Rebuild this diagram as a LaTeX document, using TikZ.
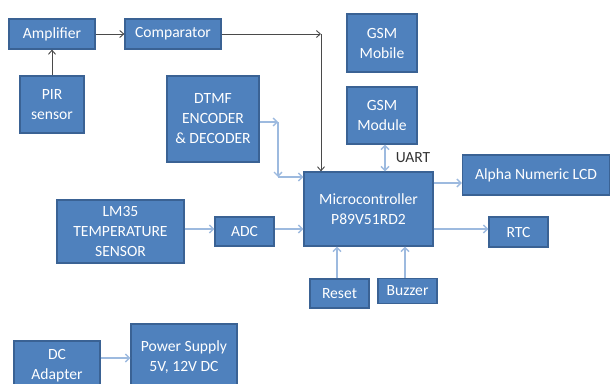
\documentclass[tikz,border=0pt]{standalone}
\usepackage{fontspec}
\setmainfont{Carlito}
\usetikzlibrary{arrows.meta}
\definecolor{boxfill}{HTML}{4F81BD}
\definecolor{boxedge}{HTML}{3A6294}
\definecolor{linklight}{HTML}{9DBADF}
\definecolor{linkdark}{HTML}{4A4A4A}
\definecolor{labeltext}{HTML}{333333}
\tikzset{
  block/.style={draw=boxedge, line width=1.2pt, fill=boxfill, text=white,
    font=\fontsize{15.6pt}{20pt}\selectfont, align=center, inner sep=0pt},
  lightlink/.style={draw=linklight, line width=1.4pt, -{Straight Barb[length=4pt,width=8pt]}},
  darklink/.style={draw=linkdark, line width=0.9pt, -{Straight Barb[length=4pt,width=7pt]}},
}
\begin{document}
\begin{tikzpicture}[x=1pt, y=-1pt]
\useasboundingbox (0,0) rectangle (610,383);

% blocks (centre, width x height)
\node[block, minimum width=86pt, minimum height=30pt]  (amp)    at (52,34)      {Amplifier};
\node[block, minimum width=96pt, minimum height=30pt]  (comp)   at (173,34)     {Comparator};
\node[block, minimum width=64pt, minimum height=57pt]  (pir)    at (52,104.5)   {PIR\\sensor};
\node[block, minimum width=92pt, minimum height=86pt]  (dtmf)   at (213,119)    {DTMF\\ENCODER\\\& DECODER};
\node[block, minimum width=70pt, minimum height=58pt]  (gsmmob) at (382,43)     {GSM\\Mobile};
\node[block, minimum width=70pt, minimum height=57pt]  (gsmmod) at (382,115.5)  {GSM\\Module};
\node[block, minimum width=129pt, minimum height=74pt] (micro)  at (368.5,209)  {Microcontroller\\P89V51RD2};
\node[block, minimum width=147pt, minimum height=40pt] (lcd)    at (536,175)    {Alpha Numeric LCD};
\node[block, minimum width=59pt, minimum height=30pt]  (rtc)    at (518.5,232)  {RTC};
\node[block, minimum width=59pt, minimum height=29pt]  (adc)    at (244.5,231.5){ADC};
\node[block, minimum width=127pt, minimum height=63pt] (lm35)   at (120.5,231.5){LM35\\TEMPERATURE\\SENSOR};
\node[block, minimum width=59pt, minimum height=29pt]  (reset)  at (339.5,293.5){Reset};
\node[block, minimum width=59pt, minimum height=25pt]  (buzzer) at (407.5,291)  {Buzzer};
\node[block, minimum width=86pt, minimum height=50pt]  (dc)     at (57,366)     {DC\\Adapter};
\node[block, minimum width=106pt, minimum height=66pt] (ps)     at (184,357)    {Power Supply\\5V, 12V DC};

% bend points of the routed links
\coordinate (cmpturn) at (321,34);
\coordinate (dtmfout) at (278,122);
\coordinate (dtmfturn) at (278,177);

% comparator path into the controller
\draw[darklink] (pir) -- (amp);
\draw[darklink] (amp) -- (comp);
\draw[darklink] (comp.east) -- (cmpturn);
\draw[darklink] (cmpturn) -- (cmpturn |- micro.north);

% DTMF path into the controller
\draw[lightlink] (dtmfout -| dtmf.east) -- (dtmfout);
\draw[lightlink] (dtmfout) -- (dtmfturn);
\draw[lightlink] (dtmfturn) -- (dtmfturn -| micro.west);

% GSM module link over UART
\coordinate (uart) at (385,0);
\draw[lightlink, {Straight Barb[length=4pt,width=8pt]}-{Straight Barb[length=4pt,width=8pt]}]
  (uart |- gsmmod.south) -- (uart |- micro.north);
\node[text=labeltext, font=\fontsize{15.5pt}{16pt}\selectfont, inner sep=0pt] (uartlbl) at (413,158) {UART};

% remaining links
\coordinate (lcdrow) at (0,183);
\draw[lightlink] (lcdrow -| micro.east) -- (lcdrow -| lcd.west);
\coordinate (rtcrow) at (0,229);
\draw[lightlink] (rtcrow -| micro.east) -- (rtcrow -| rtc.west);
\draw[lightlink] (rtcrow -| adc.east) -- (rtcrow -| micro.west);
\draw[lightlink] (rtcrow -| lm35.east) -- (rtcrow -| adc.west);
\draw[lightlink] (reset.north -| 337,0) -- (micro.south -| 337,0);
\draw[lightlink] (buzzer.north -| 405,0) -- (micro.south -| 405,0);
\coordinate (dcrow) at (0,358);
\draw[lightlink] (dcrow -| dc.east) -- (dcrow -| ps.west);
\end{tikzpicture}
\end{document}
